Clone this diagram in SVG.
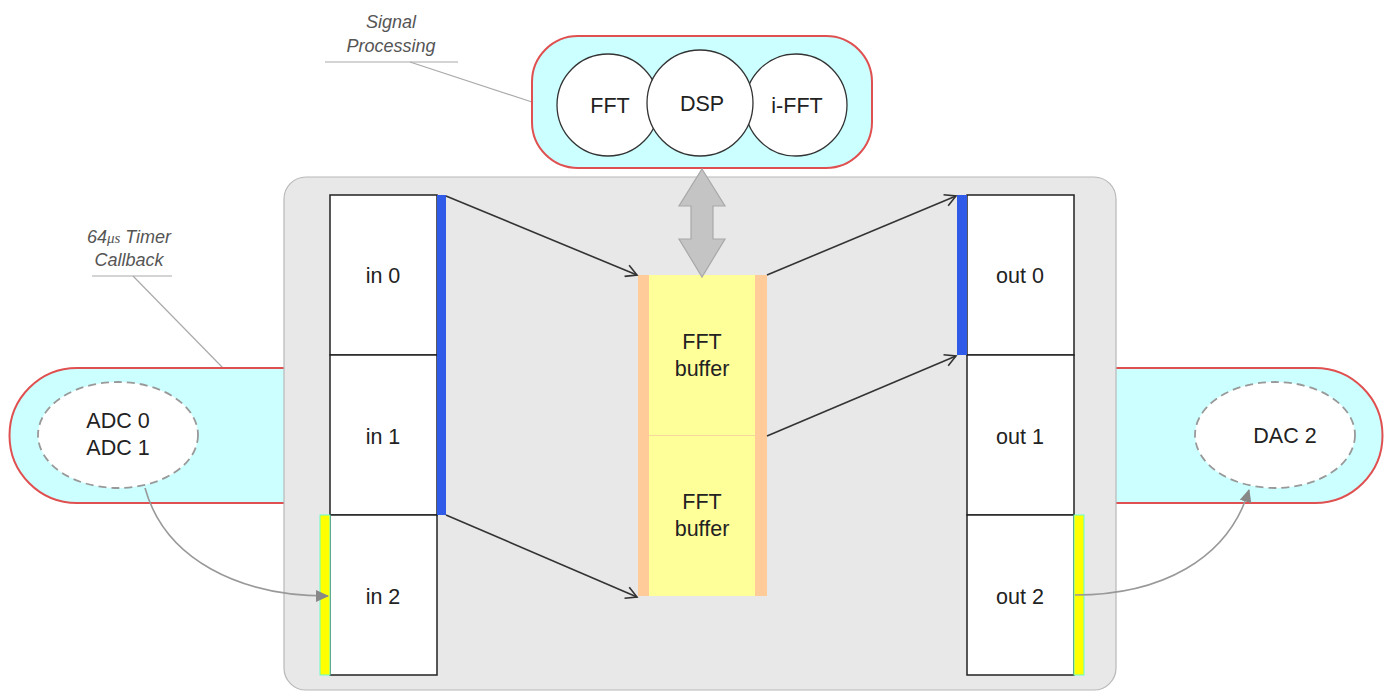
<svg xmlns="http://www.w3.org/2000/svg" width="1387" height="691" viewBox="0 0 1387 691">
<defs>
<style>
.lbl{font-family:"Liberation Sans",Arial,sans-serif;font-size:21.5px;fill:#222;text-anchor:middle}
.note{font-family:"Liberation Sans",Arial,sans-serif;font-size:18px;font-style:italic;fill:#555;text-anchor:middle}
.pill{fill:#ccffff;stroke:#e05050;stroke-width:2}
.cell{fill:#ffffff;stroke:#222;stroke-width:1.5}
.circ{fill:#ffffff;stroke:#333;stroke-width:1.3}
.dash{fill:#ffffff;stroke:#999;stroke-width:1.8;stroke-dasharray:8 5}
.lead{stroke:#aaa;stroke-width:1.2;fill:none}
.conn{stroke:#333;stroke-width:1.6;fill:none;marker-end:url(#open)}
.curve{stroke:#999;stroke-width:1.6;fill:none;marker-end:url(#solid)}
.blue{fill:#2f5be8}
.ybar{fill:#ffff00;stroke:#66ffcc;stroke-width:1}
</style>
<marker id="open" markerWidth="14" markerHeight="14" refX="12" refY="7" orient="auto" markerUnits="userSpaceOnUse">
<path d="M1,1 L12,7 L1,13" fill="none" stroke="#333" stroke-width="1.6"/>
</marker>
<marker id="solid" markerWidth="14" markerHeight="14" refX="12" refY="7" orient="auto" markerUnits="userSpaceOnUse">
<path d="M0,1 L13,7 L0,13 Z" fill="#888"/>
</marker>
</defs>
<rect width="1387" height="691" fill="#ffffff"/>

<g id="callouts">
<text class="note" x="129" y="243">64<tspan font-family="'Liberation Serif',serif" font-size="15">μs</tspan> Timer</text>
<text class="note" x="129" y="266">Callback</text>
<line class="lead" x1="92" y1="276" x2="172" y2="276"/>
<line class="lead" x1="133" y1="276" x2="223" y2="368"/>
<text class="note" x="391" y="28">Signal</text>
<text class="note" x="391" y="52">Processing</text>
<line class="lead" x1="325" y1="62" x2="458" y2="62"/>
<line class="lead" x1="410" y1="62" x2="532" y2="102"/>
</g>

<g id="adc-pill">
<path class="pill" d="M300,368 L77,368 A67.5,67.5 0 0 0 77,503 L300,503"/>
</g>
<g id="dac-pill">
<path class="pill" d="M1100,368 L1315,368 A67.5,67.5 0 0 1 1315,503 L1100,503"/>
</g>

<g id="container">
<rect x="284" y="177" width="832" height="513" rx="22" fill="#e8e8e8" stroke="#b8b8b8" stroke-width="1.2"/>
</g>

<g id="signal-processing">
<rect class="pill" x="532" y="36" width="340" height="132" rx="46"/>
</g>
<g id="fft"><circle class="circ" cx="608" cy="105" r="51"/><text class="lbl" x="610" y="113">FFT</text></g>
<g id="ifft"><circle class="circ" cx="796" cy="105" r="51"/><text class="lbl" x="797" y="113">i-FFT</text></g>
<g id="dsp"><circle class="circ" cx="700" cy="103" r="53"/><text class="lbl" x="702" y="111">DSP</text></g>

<g id="adc"><ellipse class="dash" cx="118" cy="435" rx="80" ry="53"/><text class="lbl" x="118" y="428">ADC 0</text><text class="lbl" x="118" y="455">ADC 1</text></g>
<g id="dac"><ellipse class="dash" cx="1275" cy="435" rx="80" ry="53"/><text class="lbl" x="1285" y="443">DAC 2</text></g>

<g id="in0"><rect class="cell" x="330" y="195" width="107" height="160"/><text class="lbl" x="383" y="283">in 0</text></g>
<g id="in1"><rect class="cell" x="330" y="355" width="107" height="160"/><text class="lbl" x="383" y="444">in 1</text></g>
<g id="in2"><rect class="cell" x="330" y="515" width="107" height="160"/><text class="lbl" x="383" y="604">in 2</text></g>
<rect class="blue" x="437" y="195" width="9" height="320"/>
<rect class="ybar" x="320" y="515" width="10" height="160"/>

<g id="out0"><rect class="cell" x="967" y="195" width="107" height="160"/><text class="lbl" x="1020" y="283">out 0</text></g>
<g id="out1"><rect class="cell" x="967" y="355" width="107" height="160"/><text class="lbl" x="1020" y="444">out 1</text></g>
<g id="out2"><rect class="cell" x="967" y="515" width="107" height="160"/><text class="lbl" x="1020" y="604">out 2</text></g>
<rect class="blue" x="957" y="195" width="10" height="160"/>
<rect class="ybar" x="1074" y="515" width="10" height="160"/>

<g id="fft-buffer">
<rect x="638" y="275" width="129" height="321" fill="#ffcc99"/>
<rect x="649" y="275" width="106" height="321" fill="#ffff99"/>
<line x1="649" y1="435.5" x2="755" y2="435.5" stroke="#f5d8a0" stroke-width="1"/>
<text class="lbl" x="702" y="349">FFT</text><text class="lbl" x="702" y="376">buffer</text>
<text class="lbl" x="702" y="509">FFT</text><text class="lbl" x="702" y="536">buffer</text>
</g>

<g id="connectors">
<line class="conn" x1="446" y1="196" x2="637" y2="275"/>
<line class="conn" x1="446" y1="515" x2="637" y2="597"/>
<line class="conn" x1="767" y1="275" x2="956" y2="196"/>
<line class="conn" x1="767" y1="436" x2="956" y2="356"/>
<path class="curve" d="M145,488 C165,560 240,596 328,596"/>
<path class="curve" d="M1075,595 C1160,595 1228,560 1249,490"/>
<path d="M702,169 L725,206 L713,206 L713,239 L725,239 L702,277 L679,239 L691,239 L691,206 L679,206 Z" fill="#c4c4c4" stroke="#a8a8a8" stroke-width="1.2"/>
</g>
</svg>
